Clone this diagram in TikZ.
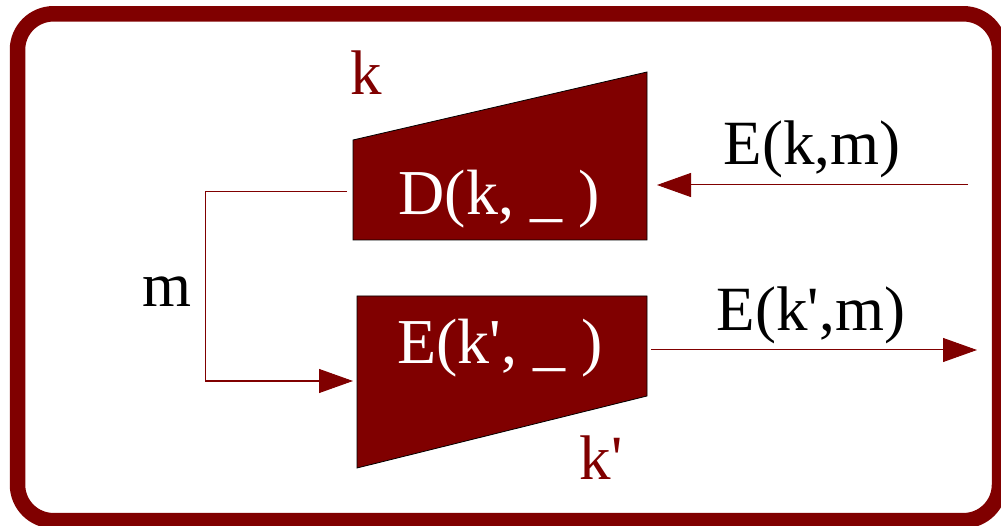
\documentclass[tikz,border=0pt]{standalone}
\usepackage{fontspec}
\setmainfont{Liberation Serif}
\usetikzlibrary{arrows.meta}
\definecolor{maroon}{HTML}{800000}
\tikzset{
  box/.style={fill=maroon, draw=black, line width=0.8pt},
  wire/.style={draw=maroon, line width=1pt, -{Triangle[length=34pt,width=24pt]}},
  lbl/.style={inner sep=0pt, anchor=base, font=\fontsize{63}{63}\selectfont},
  boxlbl/.style={lbl, text=white, font=\fontsize{64}{64}\selectfont},
}

\begin{document}
\begin{tikzpicture}[x=1pt,y=-1pt]
\useasboundingbox (0,0) rectangle (1001,526);
\draw[maroon, line width=15.5pt, rounded corners=36pt] (17.5,13.8) rectangle (999.5,520.7);
% decryption and encryption boxes
\draw[box] (353,140) -- (647,72) -- (647,240) -- (353,240) -- cycle;
\draw[box] (357,296) -- (647,296) -- (647,396) -- (357,468) -- cycle;
\node[boxlbl] (dec) at (499,215) {D(k, \_ )};
\node[boxlbl] (enc) at (500,363) {E(k\textquotesingle, \_ )};
\node[lbl, text=maroon] (key) at (366,95) {k};
\node[lbl, text=maroon] (key2) at (601,479) {k\textquotesingle};
\node[lbl] (msg) at (167,307) {m};
\node[lbl] (ct) at (812,165) {E(k,m)};
\node[lbl] (ct2) at (811,331) {E(k\textquotesingle,m)};
% ports
\coordinate (dec-w) at (347,192);
\coordinate (dec-e) at (657,185);
\coordinate (enc-w) at (353,381);
\coordinate (enc-e) at (651,350);
\coordinate (ct-src) at (968,185);
\coordinate (ct2-dst) at (977,350);
\draw[wire] (ct-src) -- (dec-e);
\draw[wire] (dec-w) -- ++(-142,0) |- (enc-w);
\draw[wire] (enc-e) -- (ct2-dst);
\end{tikzpicture}
\end{document}
